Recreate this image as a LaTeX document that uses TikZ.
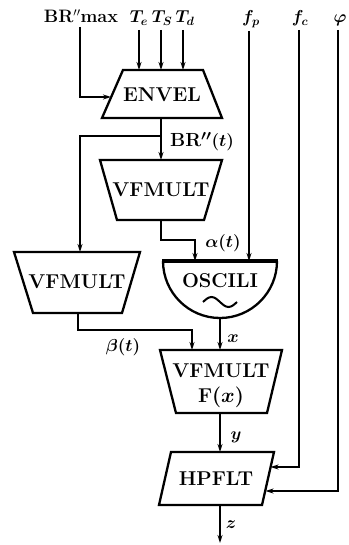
\documentclass[tikz,border=0pt]{standalone}
\usetikzlibrary{arrows.meta}
\begin{document}
\begin{tikzpicture}[x=1pt,y=-1pt,
  box/.style={line width=2.3pt,line join=miter},
  wire/.style={line width=1.3pt},
  arr/.style={wire,-{Stealth[length=8pt,width=5pt]}},
  title/.style={font=\fontsize{20}{22}\selectfont\bfseries\boldmath,inner sep=0pt},
  lbl/.style={font=\fontsize{19}{21}\selectfont\bfseries\boldmath,inner sep=0pt},
  toplbl/.style={font=\fontsize{17}{20}\selectfont\bfseries\boldmath,inner sep=0pt,anchor=base}]
\useasboundingbox (0,0) rectangle (348,545);

% block outlines
\draw[box] (123,70) -- (203,70) -- (222,118) -- (102,118) -- cycle;
\draw[box] (100,160) -- (222,160) -- (204,220) -- (117,220) -- cycle;
\draw[box] (14,252) -- (140,252) -- (122,313) -- (33,313) -- cycle;
\draw[box] (163,261) arc[start angle=180,end angle=0,radius=57];
\draw[line width=3.2pt] (162,261) -- (278,261);
\draw[box] (160,350) -- (282,350) -- (267,413) -- (176,413) -- cycle;
\draw[box] (171,452) -- (274,452) -- (262,505) -- (159,505) -- cycle;

% block names
\node[title] (envel) at (162,95) {ENVEL};
\node[title] (vf1) at (161,190) {VFMULT};
\node[title] (vf2) at (77,282) {VFMULT};
\node[title] (osc) at (220,281) {OSCILI};
\draw[line width=2pt] (203,302) sin (211.5,297) cos (220,302) sin (228.5,307) cos (237,302);
\node[title] (vf3) at (221,371) {VFMULT};
\node[title] (fx) at (221,397) {F$(x)$};
\node[title] (hp) at (216,479) {HPFLT};

% input names along the top
\node[toplbl,font=\fontsize{18}{20}\selectfont\bfseries] (brmax) at (81,23) {BR$^{\prime\prime}$max};
\node[toplbl] (te) at (139,23) {$T_e$};
\node[toplbl] (ts) at (162,23) {$T_S$};
\node[toplbl] (td) at (185,23) {$T_d$};
\node[toplbl] (fp) at (251,23) {$f_p$};
\node[toplbl] (fc) at (300,23) {$f_c$};
\node[toplbl] (phi) at (340,23) {$\varphi$};

% connection points on the block edges
\coordinate (envL) at (111,97);
\coordinate (envB) at (161,118);
\coordinate (vf1T) at (161,160);
\coordinate (vf1B) at (161,220);
\coordinate (vf2T) at (80,252);
\coordinate (vf2B) at (78,313);
\coordinate (oscT) at (195,261);
\coordinate (oscP) at (249,261);
\coordinate (oscB) at (220,318);
\coordinate (vf3Ta) at (192,350);
\coordinate (vf3Tb) at (220,350);
\coordinate (vf3B) at (220,413);
\coordinate (hpT) at (220,452);
\coordinate (hpB) at (220,505);
\coordinate (hpR1) at (270.5,467);
\coordinate (hpR2) at (265.5,491);
\coordinate (zend) at (220,543);

% connectors
\draw[arr] (80,27) |- (envL);
\draw[arr] (139,30) -- (139,70);
\draw[arr] (161,30) -- (161,70);
\draw[arr] (183,30) -- (183,70);
\draw[arr] (envB) -- (vf1T);
\draw[arr] (161,136) -| (vf2T);
\draw[arr] (vf1B) |- (195,240) -- (oscT);
\draw[arr] (249,31) -- (oscP);
\draw[arr] (vf2B) |- (192,330) -- (vf3Ta);
\draw[arr] (oscB) -- (vf3Tb);
\draw[arr] (vf3B) -- (hpT);
\draw[arr] (299,30) |- (hpR1);
\draw[arr] (338,30) |- (hpR2);
\draw[arr] (hpB) -- (zend);

% signal names
\node[lbl] (brt) at (202,142) {BR$^{\prime\prime}(t)$};
\node[lbl] (alpha) at (223,243) {$\alpha(t)$};
\node[lbl] (xs) at (233,339) {$x$};
\node[lbl] (beta) at (123,347) {$\beta(t)$};
\node[lbl] (ys) at (236,437) {$y$};
\node[lbl] (zs) at (231,525) {$z$};
\end{tikzpicture}
\end{document}
